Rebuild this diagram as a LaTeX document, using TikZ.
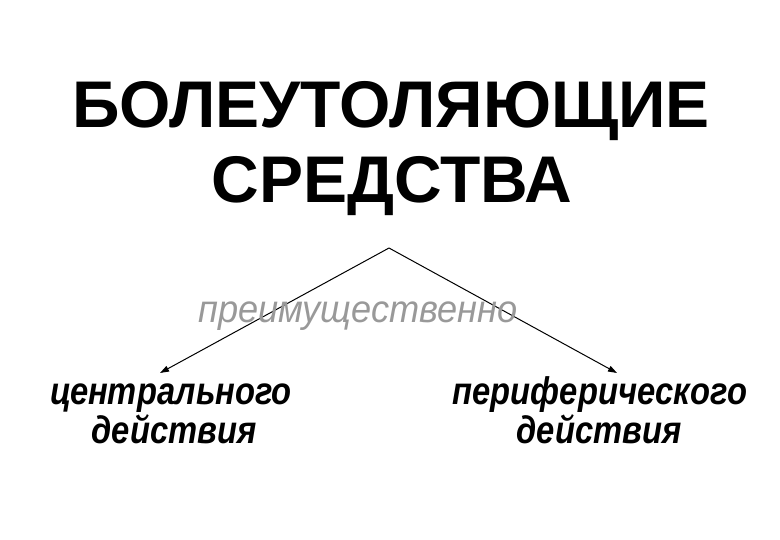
\documentclass[tikz,border=0pt]{standalone}
\usepackage{fontspec}
\setmainfont{Liberation Sans}
\newfontfamily\narrowsans[FakeStretch=0.85]{Liberation Sans}
\newfontfamily\greysans[FakeStretch=0.94]{Liberation Sans}
\usetikzlibrary{arrows.meta}
\definecolor{lightgrey}{gray}{0.6}
\tikzset{
  kind/.style={anchor=base,font=\fontsize{38.5}{38.5}\selectfont\narrowsans\bfseries\itshape},
  link/.style={line width=1pt,-{Triangle[length=9pt,width=6pt]}}
}

\begin{document}
\begin{tikzpicture}[x=1pt,y=-1pt]
  \useasboundingbox (0,0) rectangle (780,540);
  \coordinate (top)      at (389,248);
  \coordinate (lefttip)  at (160,373);
  \coordinate (righttip) at (617,373);
  \draw[link] (top) -- (lefttip);
  \draw[link] (top) -- (righttip);
  \node[anchor=base] (title1) at (391,128) {\fontsize{66}{66}\selectfont\bfseries БОЛЕУТОЛЯЮЩИЕ};
  \node[anchor=base] (title2) at (392,203) {\fontsize{66}{66}\selectfont\bfseries СРЕДСТВА};
  \node[anchor=base,text=lightgrey] (mostly) at (358,323) {\fontsize{38.5}{38.5}\selectfont\greysans\itshape преимущественно};
  \node[kind] (central1) at (171,405) {центрального};
  \node[kind] (central2) at (174,443) {действия};
  \node[kind] (periph1)  at (600,405) {периферического};
  \node[kind] (periph2)  at (599,443) {действия};
\end{tikzpicture}
\end{document}
